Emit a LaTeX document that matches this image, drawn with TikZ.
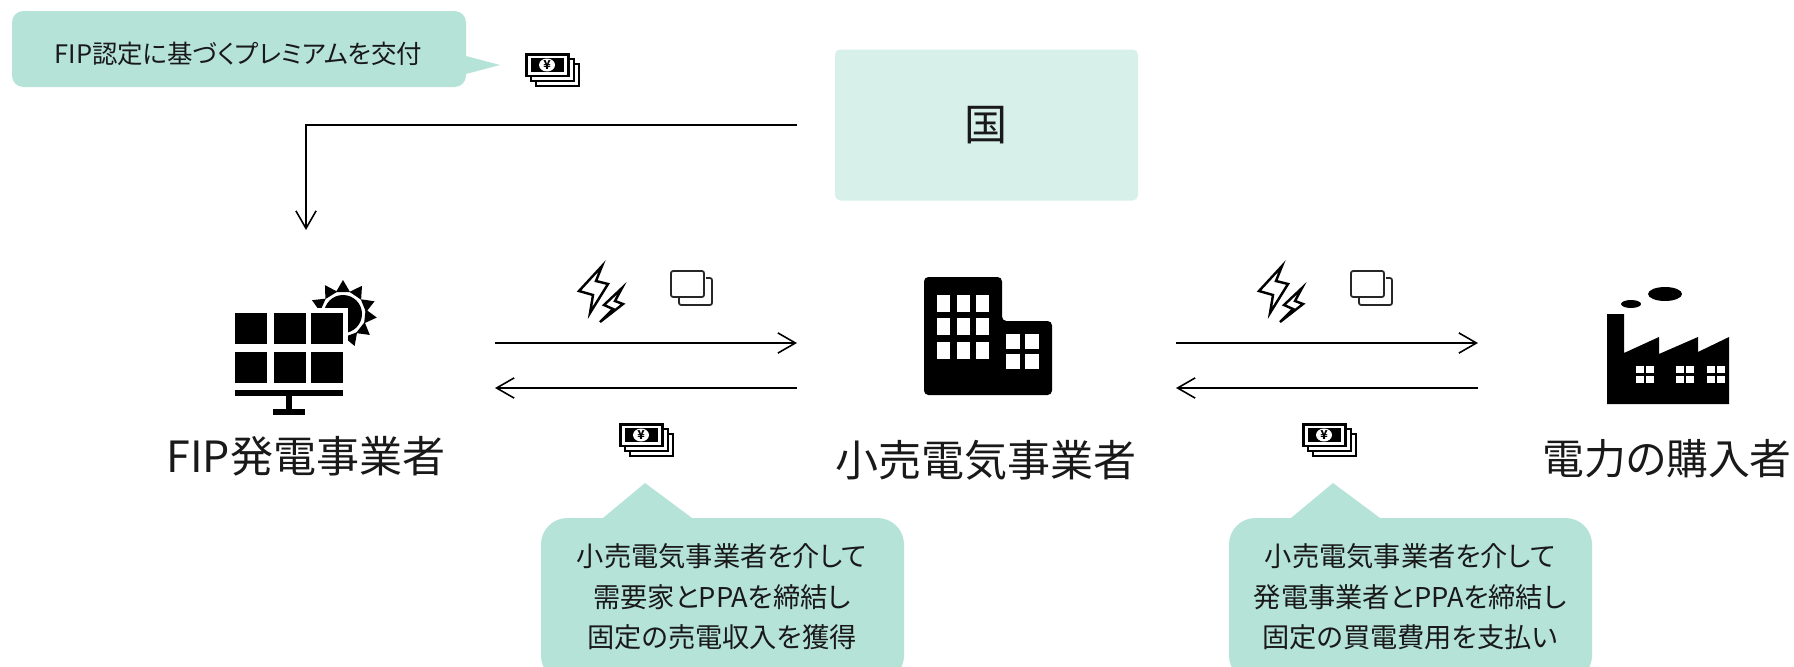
\documentclass[tikz,border=0pt]{standalone}
\usepackage{fontspec}
\usetikzlibrary{arrows.meta}
\newfontfamily\jpfont[RawFeature=+palt]{Noto Sans CJK JP}
\definecolor{bubblegreen}{HTML}{B5E3D8}
\definecolor{boxgreen}{HTML}{D7F0EA}
\tikzset{
  flow/.style={line width=.9pt,-{Straight Barb[length=10pt,width=11.5pt]}},
  bubble/.style={fill=bubblegreen},
  bigtext/.style={font=\jpfont\fontsize{24.5}{28}\selectfont,text=black!90},
  smalltext/.style={font=\jpfont\fontsize{15.5}{23}\selectfont,align=center,text=black!90},
  icon/.style={fill=black},
  hole/.style={fill=white},
  outline/.style={line width=1.4pt,line join=miter},
}
\begin{document}
\begin{tikzpicture}[x=.02cm,y=-.02cm]
   \useasboundingbox (0,0) rectangle (1794,666);

   % gov box and first callout
   \node[fill=boxgreen,rounded corners=3pt,minimum width=303*.02cm,minimum height=151*.02cm,bigtext] (gov) at (986.5,125) {国};
   \fill[bubble,rounded corners=6.5pt] (12,11) rectangle (466,87);
   \fill[bubble] (466,56) -- (500,65) -- (466,74) -- cycle;
   \node[smalltext,font=\jpfont\fontsize{14.5}{23}\selectfont] (premium) at (238.5,54) {FIP認定に基づくプレミアムを交付};

   % bubbles under the arrows, cut at the page edge
   \begin{scope}
      \clip (0,0) rectangle (1794,666);
      \foreach \bx in {541,1229}{
         \begin{scope}[shift={(\bx,0)}]
            \fill[bubble,rounded corners=15pt] (0,518) rectangle (363,682);
            \fill[bubble] (62,518) -- (104,483) -- (151,518) -- cycle;
         \end{scope}
      }
   \end{scope}
   \node[smalltext] (seller) at (722,597) {小売電気事業者を介して\\需要家とPPAを締結し\\固定の売電収入を獲得};
   \node[smalltext] (buyer) at (1410,597) {小売電気事業者を介して\\発電事業者とPPAを締結し\\固定の買電費用を支払い};

   % solar panel
   \fill[icon] (343,314) circle (19);
   \foreach \ang in {156,122,90,56,22,-6,-38,-70}{
      \begin{scope}[shift={(343,314)},rotate=\ang]
         \fill[icon] (22,-7) -- (34,0) -- (22,7) -- cycle;
      \end{scope}
   }
   \fill[hole] (230,308) rectangle (348,388);
   \foreach \px in {235,274,311}{
      \foreach \py in {313,352}{
         \fill[icon] (\px,\py) rectangle +(32,31);
      }
   }
   \fill[icon] (235,390) rectangle (343,396);
   \fill[icon] (286,396) rectangle (292,409);
   \fill[icon] (273,409) rectangle (305,415);
   \node[bigtext] (fip) at (306,456) {FIP発電事業者};

   % building
   \fill[icon,rounded corners=2.5pt] (924,277) -- (1002,277) -- (1002,321) -- (1052,321) -- (1052,395) -- (924,395) -- cycle;
   \foreach \wx in {937,957,976}{
      \foreach \wy in {295,318,342}{
         \fill[hole] (\wx,\wy) rectangle +(13,17);
      }
   }
   \foreach \wx in {1006,1025}{
      \foreach \wy in {334,354}{
         \fill[hole] (\wx,\wy) rectangle +(14,15);
      }
   }
   \node[bigtext] (retailer) at (986,460) {小売電気事業者};

   % factory
   \fill[icon] (1665,294) ellipse [x radius=17,y radius=7];
   \fill[icon] (1631,304) ellipse [x radius=10,y radius=4];
   \fill[icon] (1607,314) -- (1624,314) -- (1624,353) -- (1659,337) -- (1659,354) -- (1698,337) -- (1698,352) -- (1729,337) -- (1729,404) -- (1607,404) -- cycle;
   \foreach \fx in {1636,1676,1707}{
      \foreach \dx in {0,10}{
         \foreach \fy in {366,376}{
            \fill[hole] (\fx+\dx,\fy) rectangle +(8,7);
         }
      }
   }
   \node[bigtext,font=\jpfont\fontsize{23.8}{28}\selectfont] (consumer) at (1667,459) {電力の購入者};

   % bolts and documents
   \foreach \dx in {0,680}{
      \begin{scope}[shift={(\dx,0)}]
         \draw[outline,fill=white] (602,266) -- (579,291) -- (593,295) -- (590,313) -- (608,284) -- (596,281) -- cycle;
         \draw[outline,fill=white] (622,288) -- (604,305) -- (613,309) -- (600,322) -- (623,304) -- (615,301) -- cycle;
         \draw[line width=1pt,black!85,rounded corners=1.2pt] (671,271) rectangle (704,297);
         \draw[line width=1pt,black!85,rounded corners=1.2pt] (706,278) -- (712,278) -- (712,305) -- (679,305) -- (679,298);
      \end{scope}
   }

   % banknotes
   \foreach \yx/\yy/\ynum in {525/53/1,619/423/2,1302/423/3}{
      \begin{scope}[shift={(\yx,\yy)}]
         \draw[outline,fill=white] (1.5,1.5) rectangle (43.5,23);
         \fill[icon] (6,5) rectangle (39,19);
         \fill[hole] (22,12) ellipse [x radius=8,y radius=6.5];
         \node[font=\jpfont\bfseries\fontsize{7}{8}\selectfont,inner sep=0pt] (yen\ynum) at (22,12) {¥};
         \draw[outline] (45,6) -- (49,6) -- (49,28) -- (6,28) -- (6,24);
         \draw[outline] (50,11) -- (54,11) -- (54,33) -- (11,33) -- (11,29);
      \end{scope}
   }

   % arrows
   \coordinate (govout) at (797,125);
   \coordinate (fipin) at (306,230);
   \draw[flow] (govout) -| (fipin);
   \foreach \ax in {0,681}{
      \coordinate (left\ax up) at (495+\ax,343);
      \coordinate (right\ax up) at (797+\ax,343);
      \coordinate (left\ax down) at (495+\ax,388);
      \coordinate (right\ax down) at (797+\ax,388);
      \draw[flow] (left\ax up) -- (right\ax up);
      \draw[flow] (right\ax down) -- (left\ax down);
   }
\end{tikzpicture}
\end{document}
